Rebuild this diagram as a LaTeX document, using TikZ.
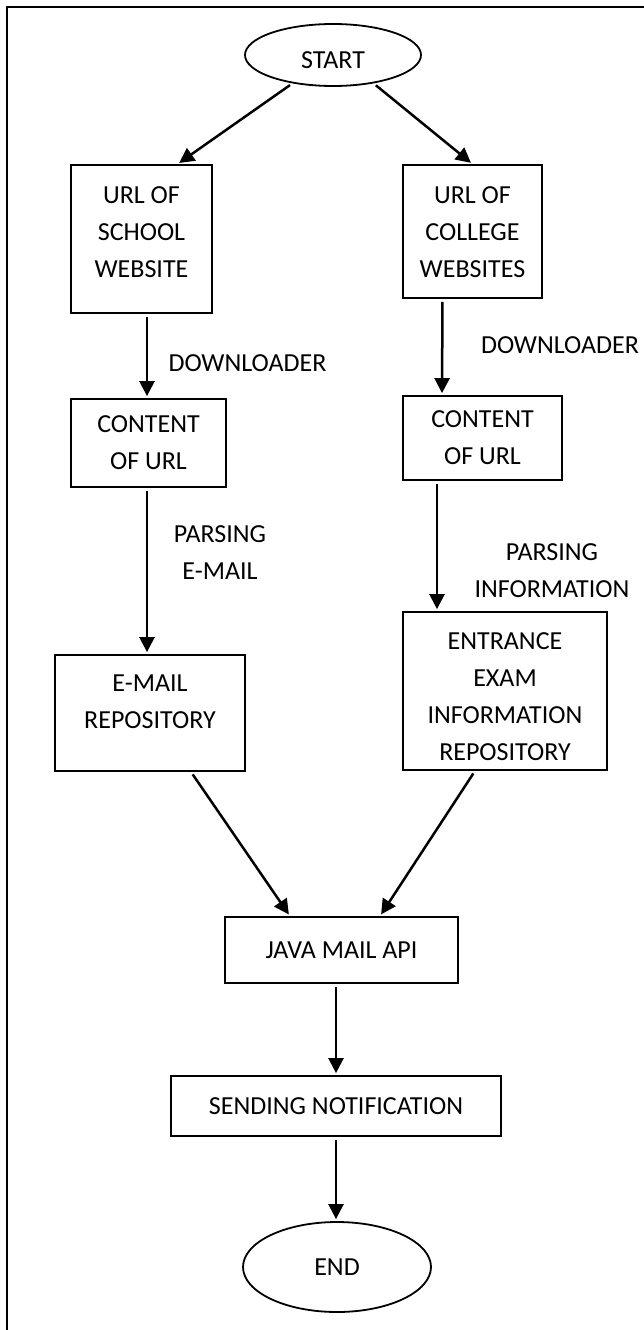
\documentclass[tikz,border=0pt]{standalone}
\usepackage{fontspec}
\setmainfont{Carlito}
\usetikzlibrary{shapes}
\usetikzlibrary{arrows.meta}
\usetikzlibrary{positioning}

\tikzset{
  stepbox/.style={draw, line width=1.8pt, rectangle, inner sep=0pt},
  txt/.style={align=center, inner sep=0pt},
  oval/.style={draw, line width=1.8pt, ellipse, inner sep=0pt},
  flow/.style={line width=2.5pt, -{Triangle[length=15pt,width=15pt]}, shorten <=3pt, shorten >=2pt}
}

\begin{document}
\begin{tikzpicture}[x=1pt, y=-1pt, font=\fontsize{26}{37}\selectfont]
  \useasboundingbox (0,0) rectangle (644,1330);
  \draw[line width=2.5pt] (644,7) -- (7,7) -- (7,1330);

  \node[oval, minimum width=176, minimum height=62] (start) at (333,55) {};
  \node[txt] (startt) at (333,60) {START};

  \node[stepbox, minimum width=141, minimum height=148] (school)  at (141.5,239) {};
  \node[txt] (schoolt) at (141.5,232) {URL OF\\SCHOOL\\WEBSITE};
  \node[stepbox, minimum width=139, minimum height=133] (college) at (472.5,231.5) {};
  \node[txt] (colleget) at (472.5,232) {URL OF\\COLLEGE\\WEBSITES};

  \node[stepbox, minimum width=155, minimum height=88] (content1) at (148.5,443) {};
  \node[txt] (content1t) at (148.5,443) {CONTENT\\OF URL};
  \node[stepbox, minimum width=159, minimum height=84] (content2) at (482.5,438) {};
  \node[txt] (content2t) at (482.5,438) {CONTENT\\OF URL};

  \node[stepbox, minimum width=190, minimum height=116] (repo1) at (150,713) {};
  \node[txt] (repo1t) at (150,702) {E-MAIL\\REPOSITORY};
  \node[stepbox, minimum width=204, minimum height=158] (repo2) at (505,691) {};
  \node[txt] (repo2t) at (505,697) {ENTRANCE\\EXAM\\INFORMATION\\REPOSITORY};

  \node[stepbox, minimum width=233, minimum height=66] (java) at (341.5,950) {};
  \node[txt] (javat) at (341.5,950) {JAVA MAIL API};
  \node[stepbox, minimum width=330, minimum height=60] (send) at (336,1106) {};
  \node[txt] (sendt) at (336,1106) {SENDING NOTIFICATION};

  \node[oval, minimum width=188, minimum height=90] (end) at (337,1267) {END};

  \node[txt] (dl1) at (247.5,363) {DOWNLOADER};
  \node[txt] (dl2) at (560,345) {DOWNLOADER};
  \node[txt] (ps1) at (220,553) {PARSING\\E-MAIL};
  \node[txt] (ps2) at (552,571) {PARSING\\INFORMATION};

  \draw[flow] (start.215) -- ([xshift=36]school.north);
  \draw[flow] (start.325) -- (college.north);
  \draw[flow] ([xshift=5.5]school.south) -- ([xshift=-1.5]content1.north);
  \draw[flow] ([xshift=-30]college.south) -- ([xshift=-40.5]content2.north);
  \draw[flow] ([xshift=-1.5]content1.south) -- ([xshift=-3]repo1.north);
  \draw[flow] ([xshift=-45.5]content2.south) -- ([xshift=-68]repo2.north);
  \draw[flow] ([xshift=41]repo1.south) -- ([xshift=-51.5]java.north);
  \draw[flow] ([xshift=-30]repo2.south) -- ([xshift=38.5]java.north);
  \draw[flow] ([xshift=-5.5]java.south) -- (send.north);
  \draw[flow] (send.south) -- ([xshift=-1]end.north);
\end{tikzpicture}
\end{document}
